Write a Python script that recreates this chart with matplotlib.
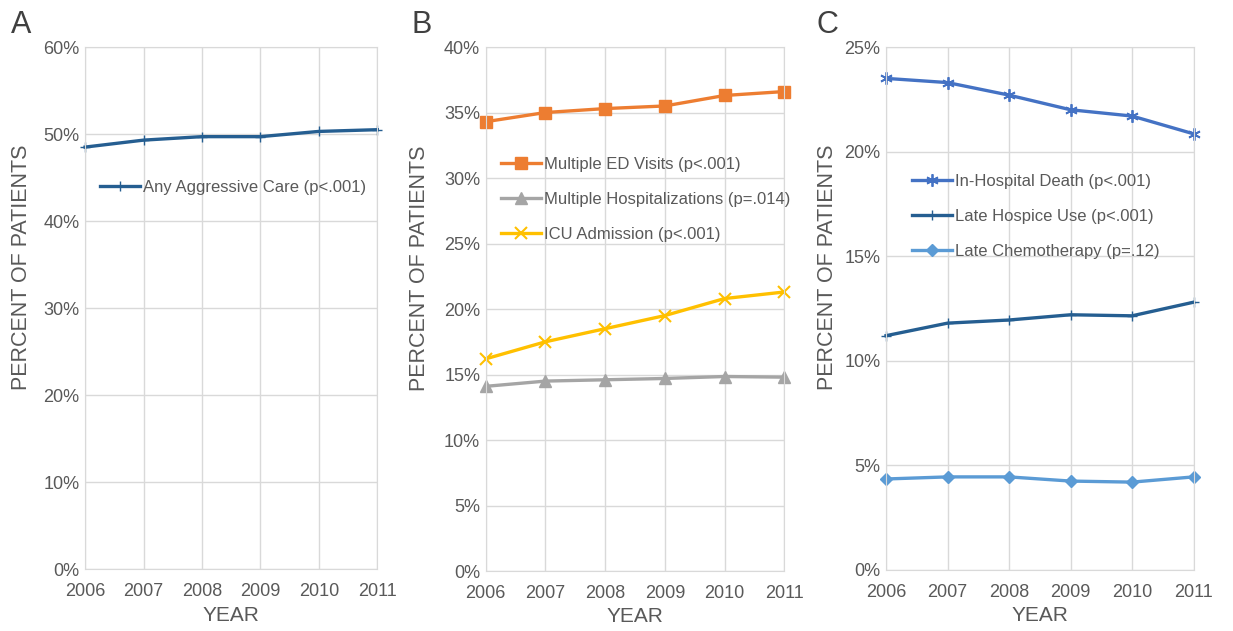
import matplotlib.pyplot as plt
from matplotlib.ticker import PercentFormatter

plt.rcParams['font.family'] = ['Liberation Sans', 'DejaVu Sans']

years = [2006, 2007, 2008, 2009, 2010, 2011]

# panel A
any_aggressive = [48.5, 49.3, 49.7, 49.7, 50.3, 50.5]

# panel B
multiple_ed = [34.3, 35.0, 35.3, 35.5, 36.3, 36.6]
multiple_hosp = [14.1, 14.5, 14.6, 14.7, 14.85, 14.8]
icu_admission = [16.2, 17.5, 18.5, 19.5, 20.8, 21.3]

# panel C
in_hospital_death = [23.5, 23.3, 22.7, 22.0, 21.7, 20.85]
late_hospice = [11.2, 11.8, 11.95, 12.2, 12.15, 12.8]
late_chemo = [4.35, 4.45, 4.45, 4.25, 4.2, 4.45]

TEXT = '#595959'
GRID = '#d9d9d9'

fig = plt.figure(figsize=(12.33, 6.31), dpi=100)

def setup(ax, ymax, ystep, letter, lx, labx):
	ax.set_xlim(2006, 2011)
	ax.set_ylim(0, ymax)
	ax.set_xticks(years)
	ax.set_yticks([v for v in range(0, ymax + 1, ystep)])
	ax.yaxis.set_major_formatter(PercentFormatter(decimals=0))
	ax.grid(True, color=GRID, linewidth=1)
	ax.set_axisbelow(True)
	for s in ax.spines.values():
		s.set_color(GRID)
	ax.tick_params(length=0, colors=TEXT, labelsize=13)
	ax.tick_params(axis='x', pad=10)
	ax.tick_params(axis='y', pad=4)
	ax.set_xlabel('YEAR', color=TEXT, fontsize=15, labelpad=4)
	ax.set_ylabel('PERCENT OF PATIENTS', color=TEXT, fontsize=15.5)
	ax.yaxis.set_label_coords(labx, 0.578)
	fig.text(lx / 1233, 1 - 33 / 631, letter, fontsize=22, color='#404040', va='baseline')

def legend(ax, x, y, spacing=1.2):
	leg = ax.legend(loc='upper left', bbox_to_anchor=(x, y), frameon=False,
		fontsize=12, handlelength=2.4, handletextpad=0.2, labelspacing=spacing)
	for t in leg.get_texts():
		t.set_color(TEXT)

# A
axA = fig.add_axes([0.069, 0.098, 0.237, 0.8275])
axA.plot(years, any_aggressive, color='#255e91', lw=2.4, marker='+', ms=7,
	label='Any Aggressive Care (p<.001)', clip_on=False)
setup(axA, 60, 10, 'A', 11, -0.18)
legend(axA, 0.0, 0.774)

# B
axB = fig.add_axes([0.394, 0.095, 0.242, 0.8305])
axB.plot(years, multiple_ed, color='#ed7d31', lw=2.4, marker='s', ms=8,
	label='Multiple ED Visits (p<.001)', clip_on=False)
axB.plot(years, multiple_hosp, color='#a5a5a5', lw=2.4, marker='^', ms=8,
	label='Multiple Hospitalizations (p=.014)', clip_on=False)
axB.plot(years, icu_admission, color='#ffc000', lw=2.4, marker='x', ms=8, mew=1.5,
	label='ICU Admission (p<.001)', clip_on=False)
setup(axB, 40, 5, 'B', 411, -0.188)
legend(axB, 0.0, 0.819)

# C
axC = fig.add_axes([0.7186, 0.0967, 0.2494, 0.8288])
axC.plot(years, in_hospital_death, color='#4472c4', lw=2.4, marker=(6, 2, 0), ms=9, mew=1.3,
	label='In-Hospital Death (p<.001)', clip_on=False)
axC.plot(years, late_hospice, color='#255e91', lw=2.4, marker='+', ms=7,
	label='Late Hospice Use (p<.001)', clip_on=False)
axC.plot(years, late_chemo, color='#5b9bd5', lw=2.4, marker='D', ms=6,
	label='Late Chemotherapy (p=.12)', clip_on=False)
setup(axC, 25, 5, 'C', 817, -0.156)
legend(axC, 0.035, 0.786)

fig.savefig('out.png', dpi=100)
